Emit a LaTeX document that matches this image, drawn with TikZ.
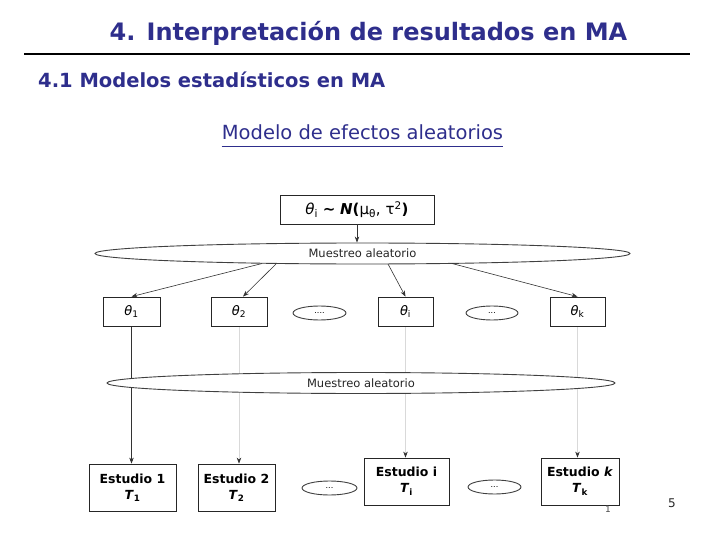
\documentclass[tikz,border=0pt]{standalone}
\usepackage{fontspec}
\setmainfont{DejaVu Sans}
\usetikzlibrary{shapes.geometric,arrows.meta}
\definecolor{navy}{RGB}{46,46,140}
\pgfdeclarelayer{bg}
\pgfsetlayers{bg,main}
\begin{document}
\begin{tikzpicture}[x=1pt,y=-1pt,
  box/.style={draw=black!85, line width=0.8pt, inner sep=0pt, align=center},
  oval/.style={draw=black!75, ellipse, line width=0.9pt, inner sep=0pt, fill=white},
  conn/.style={draw=black!80, line width=0.6pt, -{Stealth[length=6pt,width=4.5pt]}},
  faint/.style={draw=black!15, line width=0.6pt, -{Stealth[length=6pt,width=4.5pt,color=black!80]}},
  smalltxt/.style={font=\fontsize{11.5}{13}\selectfont, text=black!85}]
\useasboundingbox (0,0) rectangle (720,540);

% headings
\node[anchor=base, text=navy, font=\fontsize{24}{28}\selectfont\bfseries] (title) at (368.5,41) {4. Interpretación de resultados en MA};
\coordinate (hl) at (24,54);
\coordinate (hr) at (690,54);
\draw[line width=1.1pt] (hl) -- (hr);
\node[anchor=base west, text=navy, font=\fontsize{19.5}{23}\selectfont\bfseries, inner sep=0pt] (sub) at (38,88) {4.1 Modelos estadísticos en MA};
\node[anchor=base, text=navy, font=\fontsize{19.5}{23}\selectfont, inner sep=0pt] (model) at (362.5,140) {Modelo de efectos aleatorios};
\draw[navy, line width=1pt] ([yshift=-7pt]model.base west) -- ([yshift=-7pt]model.base east);

% top box
\node[box, minimum width=154pt, minimum height=29pt, font=\fontsize{15}{17}\selectfont] (top) at (357,209.5)
  {\textit{θ}\textsubscript{i} \textbf{∼} \textbf{\textit{N}(}μ\textsubscript{θ}, τ\textsuperscript{2}\textbf{)}};

% first sampling ellipse
\node[oval, minimum width=535pt, minimum height=21pt, smalltxt] (e1) at (362.5,253.5) {Muestreo aleatorio};

% second row
\node[box, minimum width=57pt, minimum height=29pt, font=\fontsize{13}{15}\selectfont] (b1) at (131.5,311.5) {\textit{θ}\textsubscript{1}};
\node[box, minimum width=56pt, minimum height=29pt, font=\fontsize{13}{15}\selectfont] (b2) at (239,311.5) {\textit{θ}\textsubscript{2}};
\node[oval, minimum width=53pt, minimum height=14pt, font=\fontsize{8}{9}\selectfont] (d1) at (319.5,313) {....};
\node[box, minimum width=55pt, minimum height=29pt, font=\fontsize{13}{15}\selectfont] (bi) at (405.5,311.5) {\textit{θ}\textsubscript{i}};
\node[oval, minimum width=52pt, minimum height=14pt, font=\fontsize{8}{9}\selectfont] (d2) at (492,313) {...};
\node[box, minimum width=55pt, minimum height=29pt, font=\fontsize{13}{15}\selectfont] (bk) at (577.5,311.5) {\textit{θ}\textsubscript{k}};

% second sampling ellipse
\node[oval, minimum width=508pt, minimum height=21pt, smalltxt] (e2) at (361,383) {Muestreo aleatorio};

% bottom row
\node[box, minimum width=87pt, minimum height=47pt, font=\fontsize{12.5}{16}\selectfont\bfseries] (s1) at (132.5,487.5) {Estudio 1\\\textit{T}\textsubscript{1}};
\node[box, minimum width=77pt, minimum height=47pt, font=\fontsize{12.5}{16}\selectfont\bfseries] (s2) at (236.5,487.5) {Estudio 2\\\textit{T}\textsubscript{2}};
\node[oval, minimum width=55pt, minimum height=14pt, font=\fontsize{8}{9}\selectfont] (d3) at (329.5,488) {...};
\node[box, minimum width=85pt, minimum height=47pt, font=\fontsize{12.5}{16}\selectfont\bfseries] (si) at (406.5,481.5) {Estudio i\\\textit{T}\textsubscript{i}};
\node[oval, minimum width=53pt, minimum height=14pt, font=\fontsize{8}{9}\selectfont] (d4) at (494.5,487) {...};
\node[box, minimum width=78pt, minimum height=47pt, font=\fontsize{12.5}{16}\selectfont\bfseries] (sk) at (580,481.5) {Estudio \textit{k}\\\textit{T}\textsubscript{k}};

% page marks
\node[font=\fontsize{9}{10}\selectfont, text=black!70] (one) at (608,509) {1};
\node[font=\fontsize{12}{14}\selectfont, text=black!85] (five) at (672,503) {5};

% connectors
\draw[conn] (top.south) -- (top.south |- e1.north);
\coordinate (o1) at (262,263.5);
\coordinate (o2) at (276,264);
\coordinate (o3) at (388,264);
\coordinate (o4) at (452,263.5);
\draw[conn] (o1) -- (b1.north);
\draw[conn] (o2) -- ([xshift=4pt]b2.north);
\draw[conn] (o3) -- (bi.north);
\draw[conn] (o4) -- (bk.north);

\begin{pgfonlayer}{bg}
\draw[conn] (b1.south) -- (b1.south |- s1.north);
\draw[faint] (b2.south) -- (b2.south |- s2.north);
\draw[faint] (bi.south) -- (bi.south |- si.north);
\draw[faint] (bk.south) -- (bk.south |- sk.north);
\end{pgfonlayer}
\end{tikzpicture}
\end{document}
